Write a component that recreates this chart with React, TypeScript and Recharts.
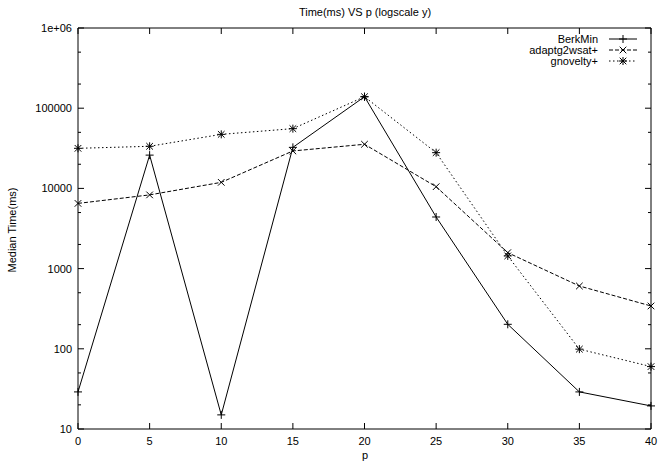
import { LineChart, Line, XAxis, YAxis } from 'recharts';

const pValues = [0, 5, 10, 15, 20, 25, 30, 35, 40];
const berkMin = [29, 26000, 15, 32500, 139000, 4400, 202, 29, 19.4];
const adaptg2wsat = [6500, 8300, 11900, 29300, 35500, 10500, 1580, 607, 342];
const gnovelty = [31600, 33500, 47200, 55600, 139000, 27900, 1440, 99, 60];

const xTicks = [0, 5, 10, 15, 20, 25, 30, 35, 40];
const yMajorTicks = [10, 100, 1000, 10000, 100000, 1000000];
const yMinorTicks = [20, 50, 200, 500, 2000, 5000, 20000, 50000, 200000, 500000];
const yTickLabels = ['10', '100', '1000', '10000', '100000', '1e+06'];

const seriesNames = ['BerkMin', 'adaptg2wsat+', 'gnovelty+'];

const rows = pValues.map((p, i) => ({
  p,
  berkMin: berkMin[i],
  adaptg2wsat: adaptg2wsat[i],
  gnovelty: gnovelty[i],
}));

const allYTicks = [...yMajorTicks, ...yMinorTicks].sort((a, b) => a - b);

const FONT = '"Liberation Sans", Arial, Helvetica, sans-serif';
const FS = 11;
const MAJOR = 6;
const MINOR = 3;

type Kind = 'plus' | 'cross' | 'star';

const Marker = ({ cx, cy, kind }: { cx: number; cy: number; kind: Kind }) => {
  const p = 4;
  const c = 3.3;
  return (
    <g stroke="#000" strokeWidth={1} fill="none">
      {(kind === 'plus' || kind === 'star') && (
        <>
          <line x1={cx - p} y1={cy} x2={cx + p} y2={cy} />
          <line x1={cx} y1={cy - p} x2={cx} y2={cy + p} />
        </>
      )}
      {(kind === 'cross' || kind === 'star') && (
        <>
          <line x1={cx - c} y1={cy - c} x2={cx + c} y2={cy + c} />
          <line x1={cx - c} y1={cy + c} x2={cx + c} y2={cy - c} />
        </>
      )}
    </g>
  );
};

const dotFor = (kind: Kind) => (props: any) => {
  if (props.cx == null || props.cy == null) return <g key={`${kind}-${props.index}`} />;
  return (
    <g key={`${kind}-${props.index}`}>
      <Marker cx={props.cx} cy={props.cy} kind={kind} />
    </g>
  );
};

const LeftTick = (props: any) => {
  const { x, y, payload } = props;
  const v = payload.value;
  const idx = yMajorTicks.indexOf(v);
  const major = idx >= 0;
  return (
    <g>
      <line x1={x} y1={y} x2={x + (major ? MAJOR : MINOR)} y2={y} stroke="#000" />
      {major && (
        <text x={x - 6} y={y} textAnchor="end" dominantBaseline="central" fontFamily={FONT} fontSize={FS} fill="#000">
          {yTickLabels[idx]}
        </text>
      )}
    </g>
  );
};

const RightTick = (props: any) => {
  const { x, y, payload } = props;
  const major = yMajorTicks.includes(payload.value);
  return <line x1={x} y1={y} x2={x - (major ? MAJOR : MINOR)} y2={y} stroke="#000" />;
};

const BottomTick = (props: any) => {
  const { x, y, payload } = props;
  return (
    <g>
      <line x1={x} y1={y} x2={x} y2={y - MAJOR} stroke="#000" />
      <text x={x} y={y + 12} textAnchor="middle" dominantBaseline="central" fontFamily={FONT} fontSize={FS} fill="#000">
        {payload.value}
      </text>
    </g>
  );
};

const TopTick = (props: any) => {
  const { x, y } = props;
  return <line x1={x} y1={y} x2={x} y2={y + MAJOR} stroke="#000" />;
};

const legendRows: { name: string; kind: Kind; dash?: string }[] = [
  { name: seriesNames[0], kind: 'plus' },
  { name: seriesNames[1], kind: 'cross', dash: '4 2' },
  { name: seriesNames[2], kind: 'star', dash: '1.5 2.5' },
];

export default function App() {
  return (
    <div style={{ position: 'absolute', left: 0, top: 0, width: 658, height: 463, background: '#fff' }}>
      <LineChart width={658} height={463} data={rows} margin={{ top: 27, right: 6, bottom: 33, left: 77 }}>
        <XAxis
          xAxisId="b"
          dataKey="p"
          type="number"
          domain={[0, 40]}
          ticks={xTicks}
          interval={0}
          height={1}
          tickSize={0}
          tickMargin={0}
          tickLine={false}
          axisLine={{ stroke: '#000' }}
          tick={BottomTick}
        />
        <XAxis
          xAxisId="t"
          orientation="top"
          dataKey="p"
          type="number"
          domain={[0, 40]}
          ticks={xTicks}
          interval={0}
          height={1}
          tickSize={0}
          tickMargin={0}
          tickLine={false}
          axisLine={{ stroke: '#000' }}
          tick={TopTick}
        />
        <YAxis
          yAxisId="l"
          scale="log"
          type="number"
          domain={[10, 1000000]}
          ticks={allYTicks}
          interval={0}
          width={1}
          tickSize={0}
          tickMargin={0}
          tickLine={false}
          axisLine={{ stroke: '#000' }}
          tick={LeftTick}
          allowDataOverflow
        />
        <YAxis
          yAxisId="r"
          orientation="right"
          scale="log"
          type="number"
          domain={[10, 1000000]}
          ticks={allYTicks}
          interval={0}
          width={1}
          tickSize={0}
          tickMargin={0}
          tickLine={false}
          axisLine={{ stroke: '#000' }}
          tick={RightTick}
          allowDataOverflow
        />
        <Line
          xAxisId="b"
          yAxisId="l"
          dataKey="berkMin"
          name={seriesNames[0]}
          stroke="#000"
          strokeWidth={1}
          dot={dotFor('plus')}
          isAnimationActive={false}
        />
        <Line
          xAxisId="b"
          yAxisId="l"
          dataKey="adaptg2wsat"
          name={seriesNames[1]}
          stroke="#000"
          strokeWidth={1}
          strokeDasharray="4 2"
          dot={dotFor('cross')}
          isAnimationActive={false}
        />
        <Line
          xAxisId="b"
          yAxisId="l"
          dataKey="gnovelty"
          name={seriesNames[2]}
          stroke="#000"
          strokeWidth={1}
          strokeDasharray="1.5 2.5"
          dot={dotFor('star')}
          isAnimationActive={false}
        />
      </LineChart>
      <svg
        width={658}
        height={463}
        style={{ position: 'absolute', left: 0, top: 0, pointerEvents: 'none' }}
      >
        <text x={365} y={12} textAnchor="middle" dominantBaseline="central" fontFamily={FONT} fontSize={FS}>
          Time(ms) VS p (logscale y)
        </text>
        <text x={365} y={455} textAnchor="middle" dominantBaseline="central" fontFamily={FONT} fontSize={FS}>
          p
        </text>
        <text
          x={12}
          y={230}
          textAnchor="middle"
          dominantBaseline="central"
          fontFamily={FONT}
          fontSize={FS}
          transform="rotate(-90 12 230)"
        >
          Median  Time(ms)
        </text>
        {legendRows.map((r, i) => {
          const y = 39 + i * 11;
          return (
            <g key={r.name}>
              <text x={598} y={y} textAnchor="end" dominantBaseline="central" fontFamily={FONT} fontSize={FS}>
                {r.name}
              </text>
              <line x1={609} y1={y} x2={637} y2={y} stroke="#000" strokeDasharray={r.dash} />
              <Marker cx={623} cy={y} kind={r.kind} />
            </g>
          );
        })}
      </svg>
    </div>
  );
}
